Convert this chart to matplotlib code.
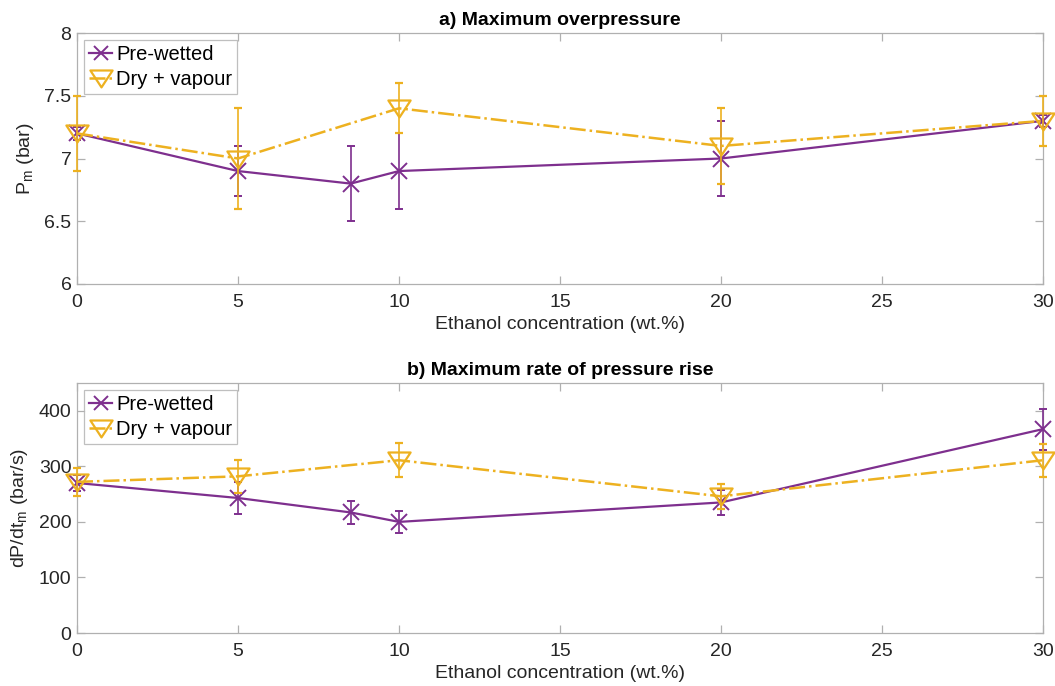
import matplotlib
matplotlib.use("Agg")
import matplotlib.pyplot as plt
from matplotlib.lines import Line2D
from matplotlib.path import Path

plt.rcParams['font.family'] = ['Liberation Sans', 'DejaVu Sans']

# Data
x_pre = [0, 5, 8.5, 10, 20, 30]
x_dry = [0, 5, 10, 20, 30]

pm_pre = [7.2, 6.9, 6.8, 6.9, 7.0, 7.3]
pm_pre_err = [0.05, 0.2, 0.3, 0.3, 0.3, 0.05]
pm_dry = [7.2, 7.0, 7.4, 7.1, 7.3]
pm_dry_err = [0.3, 0.4, 0.2, 0.3, 0.2]

dp_pre = [270, 243, 217, 200, 235, 367]
dp_pre_err = [15, 28, 21, 20, 23, 37]
dp_dry = [272, 282, 311, 246, 311]
dp_dry_err = [25, 30, 31, 22, 30]

purple = '#7E2F8E'
orange = '#EDB120'
gray = '#B0B0B0'
txt = '#262626'

# wide downward triangle (MATLAB style)
tri = Path([(-1, 0.72), (1, 0.72), (0, -0.8), (-1, 0.72)],
           [Path.MOVETO, Path.LINETO, Path.LINETO, Path.CLOSEPOLY])

W, H = 1055, 686
fig = plt.figure(figsize=(W/100, H/100), dpi=100)

def ax_rect(l, t, r, b):
    return [l/W, 1 - b/H, (r-l)/W, (b-t)/H]

ax1 = fig.add_axes(ax_rect(77, 33, 1043, 284))
ax2 = fig.add_axes(ax_rect(77, 383, 1043, 633))

FS = 14

def draw(ax, ypre, epre, ydry, edry, ylim, yticks, ylabel, title):
    l1 = ax.errorbar(x_pre, ypre, yerr=epre, color=purple, lw=1.6, ls='-',
                     marker='x', ms=11, mew=1.4, capsize=3, elinewidth=1.2,
                     capthick=1.2, zorder=3)
    l2 = ax.errorbar(x_dry, ydry, yerr=edry, color=orange, lw=1.8, ls='-.',
                     marker=tri, ms=16, mfc='none', mew=1.6, capsize=3,
                     elinewidth=1.2, capthick=1.2, zorder=4)
    for cont in (l1, l2):
        for art in cont.get_children():
            art.set_clip_on(False)
    ax.set_xlim(0, 30)
    ax.set_ylim(*ylim)
    ax.set_xticks([0, 5, 10, 15, 20, 25, 30])
    ax.set_yticks(yticks)
    ax.set_yticklabels([('%g' % v) for v in yticks])
    for s in ax.spines.values():
        s.set_color(gray)
        s.set_linewidth(0.9)
    ax.tick_params(direction='in', length=6, color=gray, labelsize=FS,
                   labelcolor=txt, top=True, right=True, width=0.9)
    ax.tick_params(axis='x', pad=7)
    ax.tick_params(axis='y', pad=4)
    ax.set_xlabel('Ethanol concentration (wt.%)', fontsize=FS, color=txt, labelpad=4)
    ax.set_ylabel(ylabel, fontsize=FS, color=txt, labelpad=6)
    ax.set_title(title, fontsize=FS, fontweight='bold', pad=6)
    handles = [
        Line2D([], [], color=purple, lw=1.6, ls='-', marker='x', ms=10, mew=1.4),
        Line2D([], [], color=orange, lw=1.8, ls='-.', marker=tri, ms=16,
               mfc='none', mew=1.6),
    ]
    leg = ax.legend(handles, ['Pre-wetted', 'Dry + vapour'], loc='upper left',
                    fontsize=14.5, frameon=True, fancybox=False,
                    edgecolor=gray, borderpad=0.25, handlelength=1.15,
                    handletextpad=0.2, labelspacing=0.3, borderaxespad=0.35)
    leg.get_frame().set_linewidth(0.9)

draw(ax1, pm_pre, pm_pre_err, pm_dry, pm_dry_err, (6, 8),
     [6, 6.5, 7, 7.5, 8], 'P$_\\mathregular{m}$ (bar)', 'a) Maximum overpressure')
draw(ax2, dp_pre, dp_pre_err, dp_dry, dp_dry_err, (0, 450),
     [0, 100, 200, 300, 400], 'dP/dt$_\\mathregular{m}$ (bar/s)', 'b) Maximum rate of pressure rise')

fig.savefig('out.png', dpi=100)
